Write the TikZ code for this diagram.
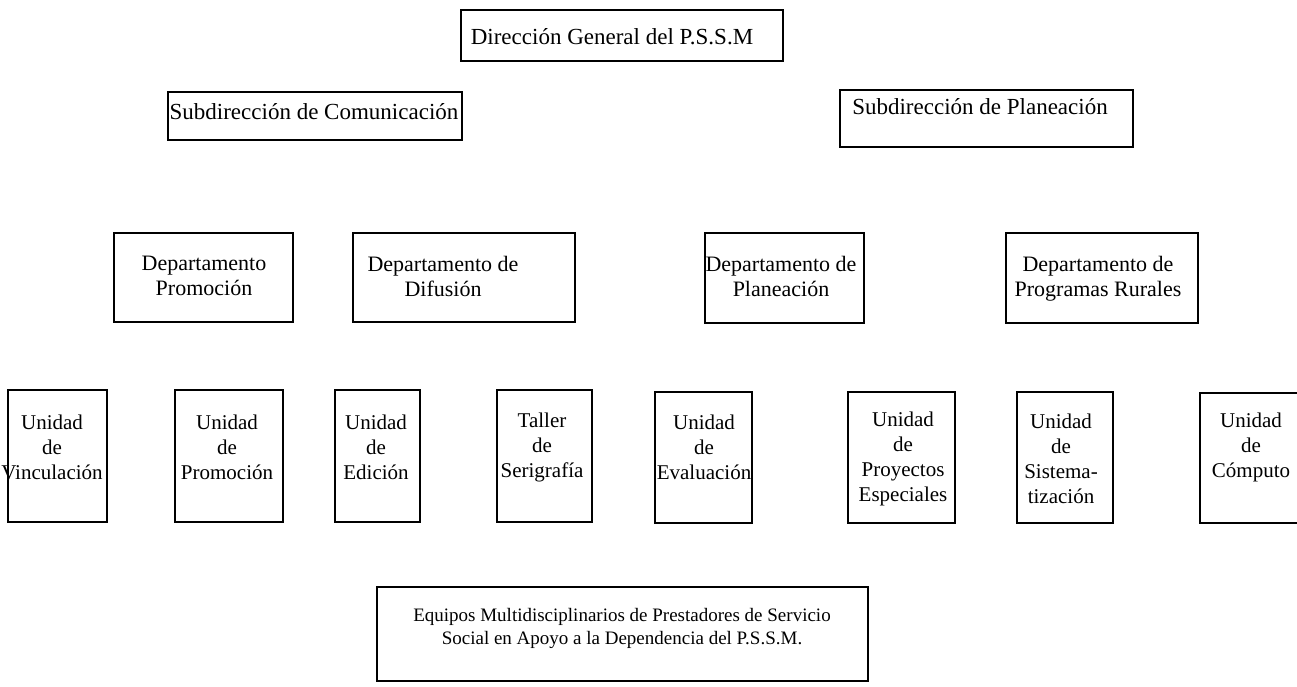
\documentclass[tikz,border=0pt]{standalone}
\usepackage{fontspec}
\setmainfont{Liberation Serif}
\begin{document}
\begin{tikzpicture}[x=1pt,y=-1pt,
  box/.style={draw=black, line width=1.6pt},
  txt/.style={inner sep=0pt, align=center, font=\fontsize{21}{25}\selectfont},
  htxt/.style={inner sep=0pt, align=center, font=\fontsize{23}{26}\selectfont},
  dtxt/.style={inner sep=0pt, align=center, font=\fontsize{22}{25}\selectfont},
  stxt/.style={inner sep=0pt, align=center, font=\fontsize{19}{23}\selectfont}]
\useasboundingbox[fill=white] (0,0) rectangle (1297,686);
% level 0
\draw[box] (461,10) rectangle (783,61);
\node[htxt] (dg) at (612,37) {Dirección General del P.S.S.M};
% level 1
\draw[box] (168,92) rectangle (462,140);
\node[htxt] (sc) at (314,112) {Subdirección de Comunicación};
\draw[box] (840,90) rectangle (1133,147);
\node[htxt] (sp) at (980,107) {Subdirección de Planeación};
% level 2
\draw[box] (114,233) rectangle (293,322);
\node[dtxt] (dpr) at (204,276) {Departamento\\Promoción};
\draw[box] (353,233) rectangle (575,322);
\node[dtxt] (ddi) at (443,276) {Departamento de\\Difusión};
\draw[box] (705,233) rectangle (864,323);
\node[dtxt] (dpl) at (781,276) {Departamento de\\Planeación};
\draw[box] (1006,233) rectangle (1198,323);
\node[dtxt] (dru) at (1098,279) {Departamento de\\Programas Rurales};
% level 3
\draw[box] (8,390) rectangle (107,522);
\node[txt] (uvi) at (52,447) {Unidad\\de\\Vinculación};
\draw[box] (175,390) rectangle (283,522);
\node[txt] (upr) at (227,447) {Unidad\\de\\Promoción};
\draw[box] (335,390) rectangle (420,522);
\node[txt] (ued) at (376,447) {Unidad\\de\\Edición};
\draw[box] (497,390) rectangle (592,522);
\node[txt] (tse) at (542,447) {Taller\\de\\Serigrafía};
\draw[box] (655,392) rectangle (752,523);
\node[txt] (uev) at (704,447) {Unidad\\de\\Evaluación};
\draw[box] (848,392) rectangle (955,523);
\node[txt] (upe) at (903,459) {Unidad\\de\\Proyectos\\Especiales};
\draw[box] (1017,392) rectangle (1113,523);
\node[txt] (usi) at (1061,459) {Unidad\\de\\Sistema-\\tización};
\draw[box] (1310,393) -- (1200,393) -- (1200,523) -- (1310,523);
\node[txt] (uco) at (1251,447) {Unidad\\de\\Cómputo};
% bottom
\draw[box] (377,587) rectangle (868,681);
\node[stxt] (eq) at (622,628) {Equipos Multidisciplinarios de Prestadores de Servicio\\Social en Apoyo a la Dependencia del P.S.S.M.};
\end{tikzpicture}
\end{document}
